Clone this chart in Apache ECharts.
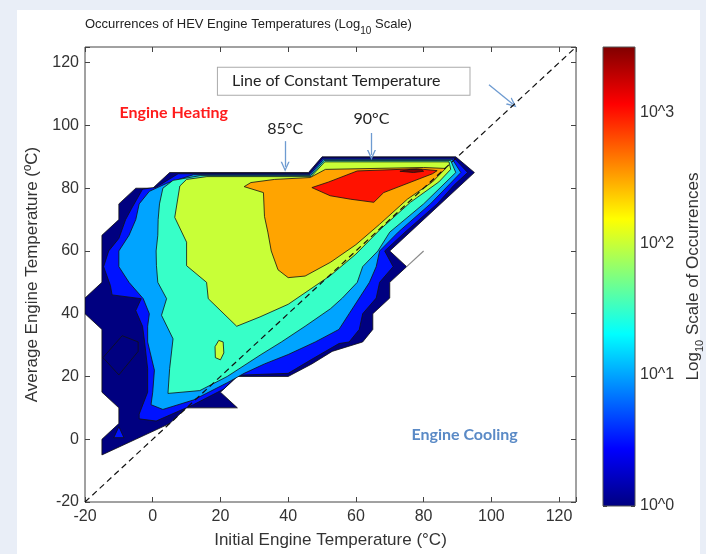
<!DOCTYPE html>
<html>
<head>
<meta charset="utf-8">
<script src="https://cdn.jsdelivr.net/npm/echarts@6/dist/echarts.min.js"></script>
<style>
  html, body { margin: 0; padding: 0; background: #e9eef7; }
  #chart { width: 706px; height: 554px; }
</style>
</head>
<body>
<div id="chart"></div>
<script>
// axis ranges (deg C)
const tempMin = -20;
const tempMax = 125;
const tempStep = 20;

// colour bar: log10 of occurrences
const logMin = 0;
const logMax = 3.5;
const logTicks = [0, 1, 2, 3];

// contour level (log10 count) of each filled band
const bandLevels = [0, 0.5, 1, 1.5, 2, 2.5, 3, 3.5];

// band outlines, [initial temp, average temp]
const navyBand = [
  [5, 85], [46, 85], [50, 90], [89.5, 90], [95, 85], [70, 60], [75, 55], [70, 50],
  [70, 45], [65, 40], [65, 35], [62, 31], [53, 28], [47, 24], [40, 20], [25, 20],
  [20, 15], [25, 10], [10, 10], [5, 5], [-5, 0], [-15, -5], [-15, 0], [-10, 5],
  [-10, 10], [-15, 15], [-15, 35], [-20, 40], [-20, 45], [-15, 50], [-15, 65],
  [-10, 70], [-10, 75], [-5, 80], [0, 80]
];
const navyIsland = [[-14.7, 26], [-9, 33], [-4.3, 31], [-4.3, 28], [-10, 20.5]];
const blueIsland = [[-11.5, 0.5], [-10, 4], [-8.5, 0.5]];
const blueBand = [
  [7.5, 84.6], [46.2, 84.6], [50.2, 89.6], [89, 89.6], [93, 85], [89, 81], [84, 75],
  [74.5, 66], [68.5, 60], [71, 55], [67, 50], [66, 45], [62, 40], [61, 35], [58, 31],
  [55, 30.5], [47, 25.5], [40, 21], [25, 20.4], [21, 16], [12, 11], [1, 5.8],
  [-4, 6.5], [-4, 8], [-1.5, 15], [-1.5, 22.5], [-2.4, 31], [-3, 36], [-5, 41],
  [-3.4, 44.8], [-12, 46], [-12.5, 49], [-14.5, 55], [-13, 60], [-10, 64],
  [-8, 70], [-6, 74], [-3, 79.7], [1, 80.3]
];
const skyBand = [
  [12, 84.3], [46.4, 84.3], [50.4, 89.2], [88.5, 89.2], [91, 85], [82, 75],
  [72.5, 66], [67, 60], [66, 55], [64, 50], [61, 45], [58, 40], [55, 35], [48, 31],
  [40, 27], [33, 24], [27, 21], [22, 18], [12, 12.5], [3, 9.5], [-0.5, 11],
  [0, 15], [0.5, 22], [-1.5, 31], [-1.5, 36], [-1, 40], [-2.8, 44.8], [-7, 50],
  [-10, 55], [-10, 60], [-7, 65], [-5, 70], [-4, 75], [-1, 79], [4, 81.5]
];
const aquaBand = [
  [14, 84], [46.6, 84], [50.6, 88.8], [88, 88.8], [89.5, 85], [80, 75], [70, 66],
  [66.5, 60], [62, 55], [60.4, 50], [56, 45], [52.5, 41.6], [45, 36], [38, 31],
  [31.7, 26.8], [22, 20], [13.9, 15.5], [4.5, 14.6], [5, 22.5], [6, 32],
  [2.6, 39.5], [4.1, 44.8], [1.5, 50], [1.1, 55.3], [1, 60], [1.5, 65], [1.6, 70],
  [2, 75], [3, 80], [6, 82.5]
];
const yellowBand = [
  [16, 83.7], [46.8, 83.7], [50.8, 88.4], [87.5, 88.4], [88, 86], [84.5, 82],
  [76.1, 75.5], [67.3, 67], [60, 59], [52.5, 52.2], [40, 43], [31.7, 39],
  [24.8, 36], [16.4, 44.8], [15.9, 50], [10, 55.3], [10, 62.8], [6.5, 70.7],
  [8, 80.7], [10, 82.8]
];
const yellowIsland = [[18.5, 26], [18.4, 29.5], [19.5, 31.5], [20.8, 31], [21, 27.5], [20, 25.3]];
const orangeBand = [
  [27, 80.5], [29, 81.8], [36, 82.8], [46.5, 83.4], [51, 86], [80, 86.6],
  [86.5, 86.3], [82.6, 82], [75.2, 76.5], [67, 68.5], [60, 62], [52.5, 56.4],
  [45, 52], [40, 51.5], [37, 54], [35, 60], [34, 66], [33, 71], [32.7, 78.6]
];
const redBand = [
  [47, 80.2], [52, 82], [60.4, 85.5], [78.1, 86.2], [84, 85.6], [82.6, 84.6],
  [68.2, 78.6], [65.3, 75.5], [58.4, 76.5], [52.4, 77.6]
];
const darkRedBand = [[73, 85.4], [76, 86], [79.5, 85.9], [80, 85.4], [77, 85]];

const constantTempLine = [[-20, -20], [125, 125]];
const strayLine = [[75, 55], [80, 60]];

const contourShapes = [
  { level: bandLevels[0], pts: navyBand },
  { level: bandLevels[0], pts: navyIsland },
  { level: bandLevels[1], pts: blueIsland },
  { level: bandLevels[1], pts: blueBand },
  { level: bandLevels[2], pts: skyBand },
  { level: bandLevels[3], pts: aquaBand },
  { level: bandLevels[4], pts: yellowBand },
  { level: bandLevels[4], pts: yellowIsland },
  { level: bandLevels[5], pts: orangeBand },
  { level: bandLevels[6], pts: redBand },
  { level: bandLevels[7], pts: darkRedBand }
];

// matlab jet colormap
function jet(f) {
  const c = (v) => Math.round(255 * Math.max(0, Math.min(1, v)));
  return "rgb(" + c(1.5 - Math.abs(4 * f - 3)) + "," + c(1.5 - Math.abs(4 * f - 2)) + "," + c(1.5 - Math.abs(4 * f - 1)) + ")";
}

const sans = "Liberation Sans, Arial, sans-serif";
const callout = "Lato, Open Sans, sans-serif";
const arrowHead = "path://M0,10 L5,0 L10,10 L8.4,10 L5,3.2 L1.6,10 Z";
const arrowColor = "#6e9bd1";

const dom = document.getElementById("chart");
const myChart = echarts.init(dom, null, { renderer: "canvas" });

const tickLabel = (v) => (v % tempStep === 0 ? String(v) : "");
const frameTick = { inside: true, length: 5, lineStyle: { color: "#444" } };
const noLine = { show: false, onZero: false };

const option = {
  animation: false,
  backgroundColor: "transparent",
  graphic: [
    { type: "rect", z: -10, shape: { x: 17, y: 10, width: 683, height: 544 }, style: { fill: "#fff" } }
  ],
  title: {
    left: 80,
    top: 7,
    text: "Occurrences of HEV Engine Temperatures (Log{sub|10} Scale)",
    textStyle: {
      fontFamily: sans,
      fontSize: 13,
      fontWeight: "normal",
      color: "#222",
      lineHeight: 24,
      rich: { sub: { fontFamily: sans, fontSize: 10, lineHeight: 10, verticalAlign: "bottom", color: "#222" } }
    }
  },
  grid: [
    { left: 85, top: 47, width: 491, height: 457, show: true, backgroundColor: "#fff", borderColor: "#444", borderWidth: 1 },
    { left: 603, top: 47, width: 38, height: 459 }
  ],
  xAxis: [
    {
      gridIndex: 0, type: "value", min: tempMin, max: tempMax, interval: tempStep,
      axisLine: noLine,
      axisTick: frameTick,
      axisLabel: { formatter: tickLabel, fontFamily: sans, fontSize: 16, color: "#333", margin: 7 },
      splitLine: { show: false },
      name: "Initial Engine Temperature (°C)",
      nameLocation: "middle",
      nameGap: 30,
      nameTextStyle: { fontFamily: sans, fontSize: 17, color: "#333" }
    },
    {
      gridIndex: 0, type: "value", position: "top", min: tempMin, max: tempMax, interval: tempStep,
      axisLine: noLine,
      axisTick: frameTick,
      axisLabel: { show: false },
      splitLine: { show: false }
    },
    { gridIndex: 1, type: "value", min: 0, max: 1, show: false }
  ],
  yAxis: [
    {
      gridIndex: 0, type: "value", min: tempMin, max: tempMax, interval: tempStep,
      axisLine: noLine,
      axisTick: frameTick,
      axisLabel: { formatter: tickLabel, fontFamily: sans, fontSize: 16, color: "#333", margin: 6 },
      splitLine: { show: false },
      name: "Average Engine Temperature (ºC)",
      nameLocation: "middle",
      nameGap: 44,
      nameTextStyle: { fontFamily: sans, fontSize: 17, color: "#333" }
    },
    {
      gridIndex: 0, type: "value", position: "right", min: tempMin, max: tempMax, interval: tempStep,
      axisLine: noLine,
      axisTick: frameTick,
      axisLabel: { show: false },
      splitLine: { show: false }
    },
    {
      gridIndex: 1, type: "value", position: "left", min: logMin, max: logMax, interval: 0.5,
      axisLine: noLine,
      axisTick: { inside: true, length: 4, lineStyle: { color: "#333" } },
      axisLabel: { show: false },
      splitLine: { show: false }
    },
    {
      gridIndex: 1, type: "value", position: "right", min: logMin, max: logMax, interval: 0.5,
      axisLine: noLine,
      axisTick: { inside: true, length: 4, lineStyle: { color: "#333" } },
      axisLabel: {
        formatter: (v) => (logTicks.indexOf(v) >= 0 ? "10^" + v : ""),
        fontFamily: sans, fontSize: 16, color: "#333", margin: 5
      },
      splitLine: { show: false },
      name: "Log{sub|10} Scale of Occurrences",
      nameLocation: "middle",
      nameRotate: 90,
      nameGap: 46,
      nameTextStyle: {
        fontFamily: sans, fontSize: 17, color: "#333", lineHeight: 24,
        rich: { sub: { fontFamily: sans, fontSize: 11, lineHeight: 11, verticalAlign: "bottom", color: "#333" } }
      }
    }
  ],
  series: [
    {
      type: "custom",
      name: "contours",
      xAxisIndex: 0,
      yAxisIndex: 0,
      silent: true,
      clip: true,
      data: contourShapes.map((s, i) => [s.pts[0][0], s.pts[0][1], i]),
      renderItem: (params, api) => {
        const s = contourShapes[params.dataIndex];
        return {
          type: "polygon",
          shape: { points: s.pts.map((p) => api.coord(p)) },
          style: { fill: jet((s.level - logMin) / (logMax - logMin)), stroke: "#111", lineWidth: 0.8 }
        };
      }
    },
    {
      type: "line",
      name: "constant temperature",
      xAxisIndex: 0,
      yAxisIndex: 0,
      data: constantTempLine,
      symbol: "none",
      silent: true,
      lineStyle: { color: "#111", width: 1.2, type: [6, 4] },
      z: 5,
      markLine: {
        silent: true,
        symbol: ["none", arrowHead],
        symbolSize: [9, 10],
        lineStyle: { color: arrowColor, width: 1.3, type: "solid" },
        label: { show: false },
        data: [
          [{ coord: [39.1, 95] }, { coord: [39.1, 86.8] }],
          [{ coord: [64.6, 97.6] }, { coord: [64.6, 90.6] }],
          [{ coord: [99.3, 113] }, { coord: [106.3, 106.8] }]
        ]
      },
      markPoint: {
        silent: true,
        symbol: "rect",
        symbolSize: 1,
        itemStyle: { color: "transparent" },
        data: [
          { coord: [6.2, 104.1], label: { show: true, formatter: "Engine Heating", fontFamily: callout, fontSize: 16, fontWeight: "bold", color: "#ff1c1c" } },
          { coord: [92.1, 1.3], label: { show: true, formatter: "Engine Cooling", fontFamily: callout, fontSize: 16, fontWeight: "bold", color: "#5a8ac6" } },
          { coord: [39.1, 98.8], label: { show: true, formatter: "85°C", fontFamily: callout, fontSize: 16, color: "#222" } },
          { coord: [64.6, 102], label: { show: true, formatter: "90°C", fontFamily: callout, fontSize: 16, color: "#222" } },
          {
            coord: [56.4, 114.1],
            label: {
              show: true, formatter: "Line of Constant Temperature", fontFamily: callout, fontSize: 16, color: "#222",
              backgroundColor: "#fff", borderColor: "#aaa", borderWidth: 1, padding: [6, 29, 5, 14]
            }
          }
        ]
      }
    },
    {
      type: "line",
      name: "stray",
      xAxisIndex: 0,
      yAxisIndex: 0,
      data: strayLine,
      symbol: "none",
      silent: true,
      lineStyle: { color: "#8a8a8a", width: 1.2 },
      z: 4
    },
    {
      type: "custom",
      name: "colorbar",
      xAxisIndex: 2,
      yAxisIndex: 2,
      silent: true,
      data: [[0, logMin, 1, logMax]],
      renderItem: (params, api) => {
        const p0 = api.coord([api.value(0), api.value(3)]);
        const p1 = api.coord([api.value(2), api.value(1)]);
        return {
          type: "rect",
          shape: { x: p0[0], y: p0[1], width: p1[0] - p0[0], height: p1[1] - p0[1] },
          style: {
            fill: {
              type: "linear", x: 0, y: 1, x2: 0, y2: 0,
              colorStops: [
                { offset: 0, color: "#000080" },
                { offset: 0.125, color: "#0000ff" },
                { offset: 0.375, color: "#00ffff" },
                { offset: 0.625, color: "#ffff00" },
                { offset: 0.875, color: "#ff0000" },
                { offset: 1, color: "#800000" }
              ]
            },
            stroke: "#555",
            lineWidth: 1
          }
        };
      }
    }
  ]
};

myChart.setOption(option);
window.addEventListener("resize", myChart.resize);
</script>
</body>
</html>
